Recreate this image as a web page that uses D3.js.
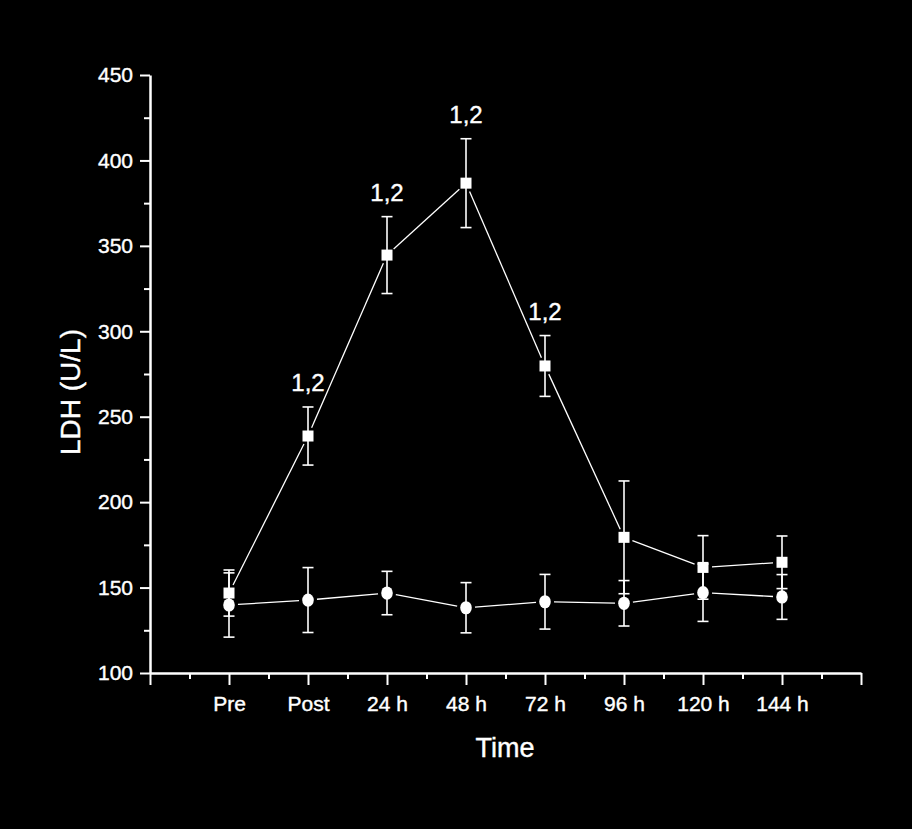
<!DOCTYPE html>
<html>
<head>
<meta charset="utf-8">
<script src="https://cdn.jsdelivr.net/npm/d3@7"></script>
<style>
html,body{margin:0;padding:0;background:#000;}
svg{display:block;}
text{font-family:"Liberation Sans",Arial,sans-serif;fill:#fff;stroke:#fff;stroke-width:0.4px;}
</style>
</head>
<body>
<svg id="chart" width="912" height="829"></svg>
<script>
const categories = ["Pre","Post","24 h","48 h","72 h","96 h","120 h","144 h"];
const squareMean = [146.8, 238.7, 344.6, 386.7, 279.7, 179.4, 161.8, 164.8];
const squareSD   = [13.5, 17.0, 22.5, 26.0, 17.8, 33.0, 18.6, 15.4];
const circleMean = [139.8, 142.7, 146.8, 138.2, 141.7, 140.8, 147.0, 144.5];
const circleSD   = [18.8, 19.0, 12.7, 14.7, 16.0, 13.3, 16.8, 13.1];
const sigLabels  = ["", "1,2", "1,2", "1,2", "1,2", "", "", ""];
const yMajorTicks = [100,150,200,250,300,350,400,450];
const yMinorTicks = [125,175,225,275,325,375,425];
const xTitle = "Time";
const yTitle = "LDH (U/L)";

const svg = d3.select("#chart");
svg.append("rect").attr("width",912).attr("height",829).attr("fill","#000");

const x = d3.scaleLinear().domain([0, 9]).range([150, 861]);
const y = d3.scaleLinear().domain([100, 450]).range([673, 75]);

// Y axis
const yMinor = svg.append("g").attr("transform","translate(150,0)")
  .call(d3.axisLeft(y).tickValues(yMinorTicks).tickSize(6).tickFormat(""));
const yAx = svg.append("g").attr("transform","translate(150,0)")
  .call(d3.axisLeft(y).tickValues(yMajorTicks).tickSize(10).tickSizeOuter(0).tickPadding(7));
// X axis
const xMinor = svg.append("g").attr("transform","translate(0,673)")
  .call(d3.axisBottom(x).tickValues(d3.range(0.5, 9, 1)).tickSize(6).tickFormat(""));
const xAx = svg.append("g").attr("transform","translate(0,673)")
  .call(d3.axisBottom(x).tickValues(d3.range(0, 10)).tickSize(12).tickSizeOuter(0).tickPadding(11)
    .tickFormat(i => categories[i-1] || ""));

svg.selectAll(".domain").attr("stroke","#fff").attr("stroke-width",2.5);
yMinor.select(".domain").remove();
xMinor.select(".domain").remove();
svg.selectAll(".tick line").attr("stroke","#fff").attr("stroke-width",2);
svg.selectAll(".tick text").attr("fill","#fff").style("font-size","21px")
  .style("font-family","'Liberation Sans',Arial,sans-serif");

// Titles
svg.append("text").attr("x",505).attr("y",757).attr("text-anchor","middle")
  .style("font-size","27px").text(xTitle);
svg.append("text").attr("transform","translate(80,392) rotate(-90)").attr("text-anchor","middle")
  .style("font-size","28px").text(yTitle);

function drawSeries(means, sds, shape){
  const pts = means.map((m,i)=>({x:x(i+1), y:y(m), m, sd:sds[i]}));
  const g = svg.append("g");
  // connecting segments with gaps near markers
  const gap = 9;
  for(let i=0;i<pts.length-1;i++){
    const a = pts[i], b = pts[i+1];
    const dx = b.x-a.x, dy = b.y-a.y, L = Math.hypot(dx,dy);
    if(L < 2*gap) continue;
    const ux = dx/L, uy = dy/L;
    g.append("line")
      .attr("x1", a.x+ux*gap).attr("y1", a.y+uy*gap)
      .attr("x2", b.x-ux*gap).attr("y2", b.y-uy*gap)
      .attr("stroke","#fff").attr("stroke-width",1.3);
  }
  // error bars
  pts.forEach(p=>{
    const top = y(p.m+p.sd), bot = y(p.m-p.sd);
    g.append("line").attr("x1",p.x).attr("x2",p.x).attr("y1",top).attr("y2",bot)
      .attr("stroke","#fff").attr("stroke-width",1.6);
    [top,bot].forEach(v=>g.append("line").attr("x1",p.x-5.5).attr("x2",p.x+5.5)
      .attr("y1",v).attr("y2",v).attr("stroke","#fff").attr("stroke-width",1.6));
  });
  // markers
  pts.forEach(p=>{
    if(shape==="square"){
      g.append("rect").attr("x",p.x-5.5).attr("y",p.y-5.5).attr("width",11).attr("height",11).attr("fill","#fff");
    } else {
      g.append("ellipse").attr("cx",p.x).attr("cy",p.y).attr("rx",5.8).attr("ry",6.6).attr("fill","#fff");
    }
  });
  return pts;
}

drawSeries(circleMean, circleSD, "circle");
const sq = drawSeries(squareMean, squareSD, "square");

// significance labels
sq.forEach((p,i)=>{
  if(!sigLabels[i]) return;
  svg.append("text").attr("x",p.x).attr("y",y(p.m+p.sd)-16).attr("text-anchor","middle")
    .style("font-size","24px").text(sigLabels[i]);
});
</script>
</body>
</html>
